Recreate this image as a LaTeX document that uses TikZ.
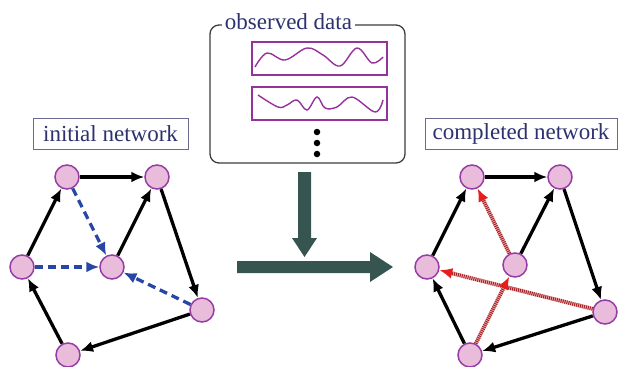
\documentclass[tikz,border=0pt]{standalone}
\usepackage{fontspec}
\setmainfont{Liberation Serif}
\usetikzlibrary{arrows.meta}
\definecolor{txtblue}{RGB}{45,50,110}
\definecolor{lblborder}{RGB}{105,105,145}
\definecolor{nodefill}{RGB}{232,188,218}
\definecolor{nodeborder}{RGB}{150,60,165}
\definecolor{datapurple}{RGB}{150,50,155}
\definecolor{bigteal}{RGB}{55,85,80}
\definecolor{dashblue}{RGB}{40,70,165}
\definecolor{redhead}{RGB}{230,30,30}
\definecolor{reddark}{RGB}{165,35,40}
\definecolor{redlight}{RGB}{240,175,175}
\definecolor{boxgray}{RGB}{60,60,60}
\begin{document}
\begin{tikzpicture}[x=1pt,y=-1pt,
  nd/.style={circle,draw=nodeborder,fill=nodefill,line width=1.5pt,minimum size=24pt,inner sep=0pt},
  blk/.style={line width=3.3pt,-{Latex[length=13pt,width=11pt]}},
  bld/.style={line width=3.3pt,draw=dashblue,dash pattern=on 8pt off 5pt,-{Latex[length=13pt,width=11pt,fill=dashblue]}},
  redunder/.style={line width=3.8pt,draw=redlight,shorten >=12pt},
  redarr/.style={line width=3.8pt,draw=reddark,dash pattern=on 1pt off 1pt,-{Latex[length=13pt,width=11pt,color=redhead]}},
  lbl/.style={draw=lblborder,line width=1pt,fill=white,text=txtblue,inner sep=0pt,font=\fontsize{23}{27}\selectfont},
  databox/.style={draw=datapurple,line width=1.4pt,inner sep=0pt,minimum width=135pt,minimum height=33pt},
  wave/.style={draw=datapurple,line width=1.4pt},
  bigarrow/.style={fill=bigteal,draw=none},
  dot/.style={circle,fill=black,inner sep=0pt,minimum size=6.5pt}
]
\useasboundingbox (0,0) rectangle (619,367);

% observed data box
\draw[rounded corners=9pt,line width=1.3pt,draw=boxgray] (210,25) rectangle (405,163);
\node[lbl,draw=none,inner xsep=3pt] (title) at (288.5,22) {observed data};
\node[databox] (d1) at (319.5,58.5) {};
\node[databox] (d2) at (319.5,103.5) {};
\draw[wave] plot[smooth,tension=0.6] coordinates {(255,67) (267,53) (285,60) (307,48) (323,55) (340,66) (357,48) (372,63) (383,57)};
\draw[wave] plot[smooth,tension=0.6] coordinates {(258,95) (278,107) (287,105) (297,100) (307,110) (317,97) (325,108) (337,107) (352,97) (375,112) (383,100)};
\node[dot] (p1) at (317,132) {};
\node[dot] (p2) at (317,143) {};
\node[dot] (p3) at (317,154) {};

% big arrows
\fill[bigarrow] (298,172) -- (311,172) -- (311,238) -- (317,238) -- (304.5,257) -- (292,238) -- (298,238) -- cycle;
\fill[bigarrow] (237,261) -- (370,261) -- (370,252) -- (393,267) -- (370,282) -- (370,273) -- (237,273) -- cycle;

% labels
\node[lbl,minimum width=155pt,minimum height=31pt] (li) at (110.5,133.5) {initial network};
\node[lbl,minimum width=192pt,minimum height=31pt] (lc) at (521,133.5) {completed network};

% initial network
\node[nd] (a) at (67,177) {};
\node[nd] (b) at (157,177) {};
\node[nd] (c) at (22,267) {};
\node[nd] (d) at (112,267) {};
\node[nd] (e) at (202,310) {};
\node[nd] (f) at (68,355) {};
\draw[blk] (a) -- (b);
\draw[blk] (c) -- (a);
\draw[blk] (d) -- (b);
\draw[blk] (b) -- (e);
\draw[blk] (e) -- (f);
\draw[blk] (f) -- (c);
\draw[bld] (a) -- (d);
\draw[bld] (c) -- (d);
\draw[bld] (e) -- (d);

% completed network
\node[nd] (a2) at (472,177) {};
\node[nd] (b2) at (560,177) {};
\node[nd] (c2) at (427,267) {};
\node[nd] (d2n) at (515,265) {};
\node[nd] (e2) at (605,312) {};
\node[nd] (f2) at (470,355) {};
\draw[blk] (a2) -- (b2);
\draw[blk] (c2) -- (a2);
\draw[blk] (d2n) -- (b2);
\draw[blk] (b2) -- (e2);
\draw[blk] (e2) -- (f2);
\draw[blk] (f2) -- (c2);
\draw[redunder] (d2n) -- (a2);
\draw[redunder] (e2) -- (c2);
\draw[redunder] (f2) -- (d2n);
\draw[redarr] (d2n) -- (a2);
\draw[redarr] (e2) -- (c2);
\draw[redarr] (f2) -- (d2n);
\end{tikzpicture}
\end{document}
